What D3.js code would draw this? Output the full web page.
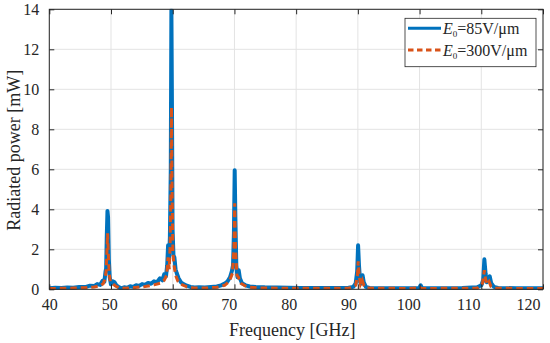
<!DOCTYPE html>
<html>
<head>
<meta charset="utf-8">
<script src="https://cdn.jsdelivr.net/npm/d3@7"></script>
<style>
  body { margin: 0; background: #fff; }
</style>
</head>
<body>
<svg id="chart" width="550" height="343"></svg>
<script>
const X_TICKS = [40, 50, 60, 70, 80, 90, 100, 110, 120];
const Y_TICKS = [0, 2, 4, 6, 8, 10, 12, 14];
const SERIES_NAMES = ["85V/\u03bcm", "300V/\u03bcm"];

// E0 = 85 V/um (blue, solid)
const freq85 = [40, 41, 42, 43, 44, 45, 46, 46.8, 47.5, 48, 48.5, 48.9, 49.2, 49.4, 49.5, 49.6, 49.72, 49.82, 49.95,
  50.1, 50.3, 50.6, 50.9, 51.2, 51.6, 52, 52.5, 53, 53.5, 54, 54.5, 55, 55.5, 56, 56.5, 57, 57.5, 58, 58.5, 58.9,
  59.2, 59.5, 59.7, 59.85, 60, 60.15, 60.3, 60.4, 60.5, 60.6, 60.75, 60.9, 61.1, 61.3, 61.6, 62, 62.5, 63, 63.6,
  64.3, 65, 66, 67, 68, 68.7, 69.3, 69.8, 70.2, 70.5, 70.7, 70.85, 70.98, 71.1, 71.25, 71.45, 71.65, 71.85, 72.2,
  72.8, 73.5, 74.5, 76, 78, 80, 82, 85, 88, 90, 90.8, 91.2, 91.45, 91.6, 91.75, 91.95, 92.15, 92.35, 92.55, 92.9,
  93.5, 96, 100, 101.8, 102.05, 102.3, 105, 109, 111.5, 112.2, 112.5, 112.7, 112.9, 113.1, 113.4, 113.6, 113.85,
  114.3, 115, 118, 122.5];
const power85 = [0.05, 0.08, 0.06, 0.09, 0.08, 0.12, 0.11, 0.18, 0.16, 0.26, 0.22, 0.42, 0.38, 0.9, 1.05, 2.6, 3.92, 3.6, 1.5,
  0.6, 0.25, 0.4, 0.35, 0.2, 0.12, 0.05, 0.1, 0.08, 0.15, 0.12, 0.2, 0.17, 0.26, 0.22, 0.32, 0.28, 0.4, 0.35, 0.55, 0.45,
  0.75, 0.65, 1.2, 2.2, 1.4, 2.6, 6, 13.95, 9, 3, 1.7, 1.6, 1.0, 0.8, 0.55, 0.35, 0.25, 0.18, 0.12,
  0.09, 0.1, 0.09, 0.12, 0.14, 0.2, 0.28, 0.4, 0.6, 0.9, 1.2, 2.8, 5.95, 3.5, 1.2, 0.6, 0.95, 0.55, 0.3,
  0.2, 0.14, 0.12, 0.1, 0.09, 0.08, 0.07, 0.06, 0.06, 0.08, 0.12, 0.3, 0.9, 2.2, 1.2, 0.35, 0.3, 0.7, 0.35, 0.12,
  0.07, 0.05, 0.05, 0.06, 0.2, 0.06, 0.05, 0.06, 0.1, 0.2, 0.45, 1.5, 0.8, 0.35, 0.5, 0.65, 0.3,
  0.12, 0.07, 0.05, 0.05];

// E0 = 300 V/um (orange, dashed)
const freq300 = [40, 42, 44, 46, 47.5, 48.5, 49, 49.3, 49.5, 49.62, 49.74, 49.86, 50, 50.2, 50.5, 51, 51.6, 52.5, 54,
  56, 57.5, 58.5, 59.2, 59.6, 59.85, 60.05, 60.2, 60.32, 60.42, 60.52, 60.65, 60.85, 61.1, 61.5, 62, 63, 64, 66, 68,
  69.3, 70.1, 70.6, 70.85, 70.98, 71.12, 71.35, 71.6, 72, 73, 75, 80, 90, 91.2, 91.5, 91.62, 91.78, 92, 92.3, 92.55,
  93, 100, 102, 102.3, 111.5, 112.4, 112.7, 112.9, 113.2, 113.5, 113.8, 114.5, 122.5];
const power300 = [0.04, 0.05, 0.06, 0.08, 0.12, 0.18, 0.28, 0.5, 0.9, 1.8, 2.8, 1.8, 0.8, 0.4, 0.3, 0.18, 0.08, 0.05, 0.08,
  0.14, 0.22, 0.3, 0.45, 0.7, 1.6, 1.0, 2.3, 5, 9.1, 5, 1.8, 1.2, 0.7, 0.4, 0.25, 0.12, 0.07, 0.06, 0.1,
  0.2, 0.4, 0.8, 2, 4.3, 2, 0.7, 0.6, 0.3, 0.12, 0.07, 0.05, 0.05, 0.2, 0.7, 1.4, 0.7, 0.25, 0.45, 0.2,
  0.06, 0.04, 0.08, 0.04, 0.06, 0.3, 0.95, 0.5, 0.25, 0.38, 0.15, 0.05, 0.04];

const BLUE = "#0072bd";
const ORANGE = "#d95319";
const AXIS_COLOR = "#262626";
const FONT = "'Liberation Serif', 'Times New Roman', serif";

var svg = d3.select("#chart");
var margin = { top: 9.3, bottom: 53.7, left: 49.3, right: 7 };
var width = 550 - margin.left - margin.right;
var height = 343 - margin.top - margin.bottom;

var g = svg.append("g").attr("transform", `translate(${margin.left},${margin.top})`);

// data + tick labels live on this scale
var x = d3.scaleLinear().domain([40, 122.5]).range([0, width]);
// grid lines and tick marks split the box in 8 equal parts
var xGrid = d3.scaleLinear().domain([40, 120]).range([0, width]);
var y = d3.scaleLinear().domain([0, 14]).range([height, 0]);

//GRID
g.append("g")
  .selectAll("line")
  .data(X_TICKS)
  .join("line")
  .attr("x1", (d) => xGrid(d))
  .attr("x2", (d) => xGrid(d))
  .attr("y1", 0)
  .attr("y2", height)
  .attr("stroke", "#e3e3e3")
  .attr("stroke-width", 1);

g.append("g")
  .selectAll("line")
  .data(Y_TICKS)
  .join("line")
  .attr("x1", 0)
  .attr("x2", width)
  .attr("y1", (d) => y(d))
  .attr("y2", (d) => y(d))
  .attr("stroke", "#e3e3e3")
  .attr("stroke-width", 1);

//LINES
svg.append("clipPath").attr("id", "plot-clip")
  .append("rect").attr("width", width).attr("height", height + 1).attr("y", -0.5);

var line = d3.line()
  .x((d) => x(d[0]))
  .y((d) => y(d[1]));

var plot = g.append("g").attr("clip-path", "url(#plot-clip)");

plot.append("path")
  .datum(d3.zip(freq85, power85))
  .attr("d", line)
  .attr("fill", "none")
  .attr("stroke", BLUE)
  .attr("stroke-width", 4)
  .attr("stroke-linejoin", "round");

plot.append("path")
  .datum(d3.zip(freq300, power300))
  .attr("d", line)
  .attr("fill", "none")
  .attr("stroke", ORANGE)
  .attr("stroke-width", 3)
  .attr("stroke-dasharray", "6.5,4");

//AXES
function styleAxis(sel) {
  sel.attr("font-family", FONT);
  sel.select(".domain").remove();
  sel.selectAll(".tick line").attr("stroke", AXIS_COLOR);
  sel.selectAll(".tick text")
    .attr("font-size", 16)
    .attr("fill", AXIS_COLOR);
}

// tick marks (inward) on all four sides
g.append("g").attr("transform", `translate(0,${height})`)
  .call(d3.axisBottom(xGrid).tickValues(X_TICKS).tickSize(-5).tickFormat(""))
  .call(styleAxis);
g.append("g")
  .call(d3.axisTop(xGrid).tickValues(X_TICKS).tickSize(-5).tickFormat(""))
  .call(styleAxis);
g.append("g")
  .call(d3.axisLeft(y).tickValues(Y_TICKS).tickSize(-5).tickPadding(10))
  .call(styleAxis);
g.append("g").attr("transform", `translate(${width},0)`)
  .call(d3.axisRight(y).tickValues(Y_TICKS).tickSize(-5).tickFormat(""))
  .call(styleAxis);

// x tick labels
g.append("g").attr("transform", `translate(0,${height})`)
  .call(d3.axisBottom(x).tickValues(X_TICKS).tickSize(0).tickPadding(9))
  .call(styleAxis);

// box
g.append("rect")
  .attr("width", width)
  .attr("height", height)
  .attr("fill", "none")
  .attr("stroke", AXIS_COLOR)
  .attr("stroke-width", 1);

//AXIS TITLES
svg.append("text")
  .attr("x", margin.left + width / 2 - 4)
  .attr("y", 336)
  .attr("text-anchor", "middle")
  .attr("font-family", FONT)
  .attr("font-size", 18)
  .attr("fill", AXIS_COLOR)
  .text("Frequency [GHz]");

svg.append("text")
  .attr("transform", `translate(20,${margin.top + height / 2 + 1}) rotate(-90)`)
  .attr("text-anchor", "middle")
  .attr("font-family", FONT)
  .attr("font-size", 18)
  .attr("fill", AXIS_COLOR)
  .text("Radiated power [mW]");

//LEGEND
var legend = svg.append("g").attr("transform", "translate(405,18.3)");
legend.append("rect")
  .attr("width", 131)
  .attr("height", 48.4)
  .attr("fill", "#fff")
  .attr("stroke", AXIS_COLOR)
  .attr("stroke-width", 0.8);

var legendItems = legend.selectAll(".legend-item")
  .data(SERIES_NAMES)
  .join("g")
  .attr("class", "legend-item")
  .attr("transform", (d, i) => `translate(0,${10 + i * 21.7})`);

legendItems.append("line")
  .attr("x1", 3)
  .attr("x2", 36)
  .attr("stroke", (d, i) => (i === 0 ? BLUE : ORANGE))
  .attr("stroke-width", (d, i) => (i === 0 ? 3 : 2.8))
  .attr("stroke-dasharray", (d, i) => (i === 0 ? null : "5.5,3.5"));

var legendText = legendItems.append("text")
  .attr("x", 38)
  .attr("y", 5.5)
  .attr("font-family", FONT)
  .attr("font-size", 16)
  .attr("fill", AXIS_COLOR);
legendText.append("tspan").attr("font-style", "italic").text("E");
legendText.append("tspan").attr("dy", 3).attr("font-size", 9).text("0");
legendText.append("tspan").attr("dy", -3).text((d) => "=" + d);
</script>
</body>
</html>
